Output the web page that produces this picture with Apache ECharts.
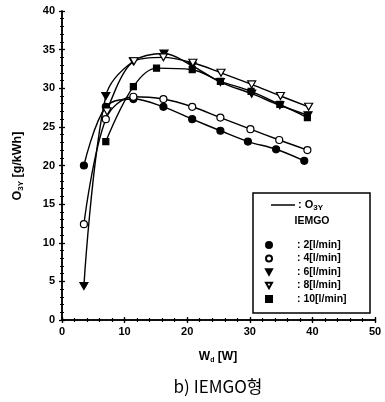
<!DOCTYPE html>
<html><head><meta charset="utf-8">
<script src="https://cdn.jsdelivr.net/npm/echarts@6/dist/echarts.min.js"></script>
<style>html,body{margin:0;padding:0;background:#fff}#c{width:385px;height:402px}</style>
</head><body><div id="c"></div>
<script>
// Data: W_d [W] vs O3Y [g/kWh]
const seriesNames = ['2', '4', '6', '8', '10'];
const legendLabels = [': 2[l/min]', ': 4[l/min]', ': 6[l/min]', ': 8[l/min]', ': 10[l/min]'];
const x2  = [3.5, 7.0, 11.4, 16.2, 20.8, 25.3, 29.7, 34.2, 38.7];
const y2  = [20.0, 27.6, 28.6, 27.6, 26.0, 24.5, 23.1, 22.1, 20.6];
const x4  = [3.5, 7.0, 11.4, 16.2, 20.8, 25.3, 30.1, 34.7, 39.2];
const y4  = [12.4, 26.0, 28.9, 28.6, 27.6, 26.2, 24.7, 23.3, 22.0];
const x6  = [3.5, 7.0, 11.4, 16.3, 20.8, 25.3, 30.3, 34.8, 39.3];
const y6  = [4.4, 29.0, 33.5, 34.5, 32.9, 30.8, 29.3, 27.8, 26.5];
const x8  = [7.2, 11.5, 16.2, 20.9, 25.4, 30.3, 34.9, 39.4];
const y8  = [27.0, 33.5, 34.0, 33.3, 32.0, 30.5, 29.0, 27.6];
const x10 = [7.0, 11.4, 15.1, 20.8, 25.3, 30.2, 34.8, 39.2];
const y10 = [23.1, 30.2, 32.6, 32.4, 30.9, 29.6, 27.9, 26.2];
const xTicks = [0, 10, 20, 30, 40, 50];
const yTicks = [0, 5, 10, 15, 20, 25, 30, 35, 40];

const xs = [x2, x4, x6, x8, x10];
const ys = [y2, y4, y6, y8, y10];
const downTri = 'path://M0,0L10,0L5,9Z';
const symbols = ['circle', 'circle', downTri, downTri, 'rect'];
const fills = ['#000', '#fff', '#000', '#fff', '#000'];
const sizes = [7, 7, [8, 7], [8, 7], 6];

const chart = echarts.init(document.getElementById('c'), null, {renderer: 'canvas'});
const tickFont = {fontFamily: 'Liberation Sans', fontWeight: 'bold', fontSize: 11, color: '#000'};
const majorAxis = {
  axisLine: {lineStyle: {color: '#000', width: 1.5}},
  axisTick: {inside: true, length: 3, lineStyle: {color: '#000', width: 1.3}},
  splitLine: {show: false}
};
const minorAxis = {
  axisLine: {show: false},
  axisTick: {inside: true, length: 2, lineStyle: {color: '#000', width: 1.2}},
  axisLabel: {show: false},
  splitLine: {show: false}
};
const series = seriesNames.map((n, i) => ({
  name: n,
  type: 'line',
  xAxisIndex: 0, yAxisIndex: 0,
  smooth: 0.35,
  data: xs[i].map((x, j) => [x, ys[i][j]]),
  symbol: symbols[i],
  symbolSize: sizes[i],
  showAllSymbol: true,
  lineStyle: {color: '#000', width: 1.4},
  itemStyle: {color: fills[i], borderColor: '#000', borderWidth: 1.2},
  z: 3 + i
}));
chart.setOption({
  animation: false,
  backgroundColor: '#fff',
  grid: {left: 62, right: 10, top: 11, bottom: 82},
  xAxis: [
    {type: 'value', min: 0, max: 50, interval: 10, ...majorAxis, axisLabel: {...tickFont, margin: 6}},
    {type: 'value', position: 'top', min: 0, max: 50, interval: 10, ...majorAxis, axisLabel: {show: false}},
    {type: 'value', position: 'bottom', min: 0, max: 50, interval: 2, ...minorAxis},
    {type: 'value', position: 'top', min: 0, max: 50, interval: 2, ...minorAxis}
  ],
  yAxis: [
    {type: 'value', min: 0, max: 40, interval: 5, ...majorAxis, axisLabel: {...tickFont, margin: 7}},
    {type: 'value', position: 'right', min: 0, max: 40, interval: 5, ...majorAxis, axisLabel: {show: false}},
    {type: 'value', position: 'left', min: 0, max: 40, interval: 1, ...minorAxis},
    {type: 'value', position: 'right', min: 0, max: 40, interval: 1, ...minorAxis}
  ],
  legend: {
    show: true,
    orient: 'vertical',
    left: 260, top: 234,
    itemWidth: 6, itemHeight: 6, itemGap: 1.5,
    data: seriesNames.map((n, i) => ({name: n, icon: symbols[i]})),
    formatter: (name) => legendLabels[seriesNames.indexOf(name)],
    textStyle: {fontFamily: 'Liberation Sans', fontWeight: 'bold', fontSize: 10.5, lineHeight: 12, color: '#000', padding: [0, 0, 0, 20]},
    z: 20
  },
  graphic: [
    {type: 'rect', shape: {x: 253, y: 193, width: 117, height: 120}, style: {fill: 'none', stroke: '#000', lineWidth: 1.5}, z: 10},
    {type: 'line', shape: {x1: 271, y1: 205, x2: 295, y2: 205}, style: {stroke: '#000', lineWidth: 1.5}, z: 11},
    {type: 'text', x: 298, y: 205, style: {
      text: ': O{s|3Y}', verticalAlign: 'middle', font: 'bold 11px Liberation Sans', fill: '#000',
      rich: {s: {fontSize: 8, fontWeight: 'bold', fontFamily: 'Liberation Sans', padding: [6, 0, 0, 0]}}
    }, z: 11},
    {type: 'text', x: 312, y: 221, style: {text: 'IEMGO', align: 'center', verticalAlign: 'middle', font: 'bold 10.5px Liberation Sans', fill: '#000'}, z: 11},
    {type: 'text', x: 18, y: 166, rotation: Math.PI / 2, style: {
      text: 'O{s|3Y} [g/kWh]', align: 'center', verticalAlign: 'middle', font: 'bold 12.5px Liberation Sans', fill: '#000',
      rich: {s: {fontSize: 8, fontWeight: 'bold', fontFamily: 'Liberation Sans', padding: [6, 0, 0, 0]}}
    }},
    {type: 'text', x: 218, y: 357, style: {
      text: 'W{s|d} [W]', align: 'center', verticalAlign: 'middle', font: 'bold 12px Liberation Sans', fill: '#000',
      rich: {s: {fontSize: 7, fontWeight: 'bold', fontFamily: 'Liberation Sans', padding: [6, 0, 0, 0]}}
    }},
    {type: 'text', x: 218, y: 387, style: {
      text: 'b) IEMGO형', align: 'center', verticalAlign: 'middle', font: '17px "Noto Sans CJK KR"', fill: '#000'
    }}
  ],
  series: series
});
</script></body></html>
